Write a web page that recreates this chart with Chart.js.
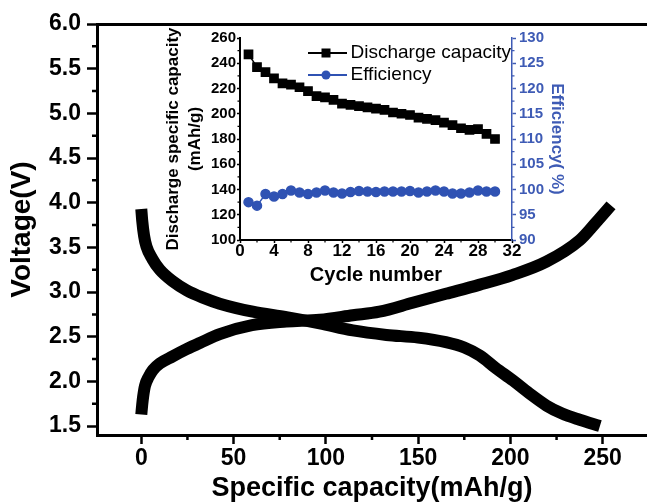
<!DOCTYPE html>
<html>
<head>
<meta charset="utf-8">
<title>Voltage profile and cycling</title>
<script src="https://cdn.jsdelivr.net/npm/chart.js@4.4.1/dist/chart.umd.min.js"></script>
<style>
  html, body { margin: 0; padding: 0; background: #fff; overflow: hidden; }
  #wrap { position: relative; width: 647px; height: 502px; }
  #mainChart { position: absolute; left: 0; top: 0; }
  #insetChart { position: absolute; left: 150px; top: 20px; }
</style>
</head>
<body>
<div id="wrap">
  <canvas id="mainChart" width="647" height="502"></canvas>
  <canvas id="insetChart" width="430" height="275"></canvas>
</div>
<script>
// ---- charge / discharge profile (mAh/g vs V) ----
const chargeCapacity = [0, 0.5, 1, 2, 4, 6.4, 10, 17, 24.5, 31.7, 42.5, 60, 78.6, 96.7, 114.6, 129, 147, 165, 183, 201, 219.5, 237.5, 246, 254.5];
const chargeVoltage = [1.63, 1.74, 1.83, 1.95, 2.05, 2.13, 2.20, 2.28, 2.36, 2.43, 2.53, 2.63, 2.67, 2.69, 2.74, 2.78, 2.88, 2.98, 3.08, 3.19, 3.34, 3.58, 3.77, 3.97];

const dischargeCapacity = [0, 0.5, 1.5, 2.8, 6, 10, 17, 24.5, 33, 42.5, 60.4, 78.6, 96.7, 114.6, 132.8, 150, 165, 175, 183.4, 192, 201.4, 210, 219.5, 228, 237.5, 248.5];
const dischargeVoltage = [3.93, 3.80, 3.63, 3.51, 3.37, 3.25, 3.12, 3.02, 2.94, 2.87, 2.78, 2.72, 2.65, 2.57, 2.52, 2.49, 2.44, 2.38, 2.29, 2.15, 2.01, 1.87, 1.73, 1.64, 1.57, 1.50];

const voltageTicks = [1.5, 2.0, 2.5, 3.0, 3.5, 4.0, 4.5, 5.0, 5.5, 6.0];
const capacityTicks = [0, 50, 100, 150, 200, 250];

// ---- cycling inset ----
const cycles = [1, 2, 3, 4, 5, 6, 7, 8, 9, 10, 11, 12, 13, 14, 15, 16, 17, 18, 19, 20, 21, 22, 23, 24, 25, 26, 27, 28, 29, 30];
const dischargeCap = [247, 237, 233, 228, 224, 223, 221, 218, 214, 213, 211, 208, 207, 206, 205, 204, 203, 201, 200, 199, 197, 196, 195, 193, 191, 188.5, 187.2, 187.8, 184, 180];
const efficiency = [97.5, 96.8, 99.1, 98.6, 99.1, 99.8, 99.4, 99.1, 99.4, 99.8, 99.4, 99.2, 99.5, 99.7, 99.6, 99.5, 99.6, 99.6, 99.6, 99.7, 99.4, 99.6, 99.8, 99.6, 99.2, 99.2, 99.4, 99.8, 99.6, 99.6];

const cycleTicks = [0, 4, 8, 12, 16, 20, 24, 28, 32];
const insetCapTicks = [100, 120, 140, 160, 180, 200, 220, 240, 260];
const efficiencyTicks = [90, 95, 100, 105, 110, 115, 120, 125, 130];

const BLUE = '#2f52b3';
const AXIS_BLUE = '#3e5bb5';

Chart.defaults.font.family = "'Liberation Sans', Arial, sans-serif";
Chart.defaults.color = '#000';

// small ticks halfway between the labelled ones
const minorTicks = {
  id: 'minorTicks',
  afterDraw(chart, args, opts) {
    const ctx = chart.ctx;
    const area = chart.chartArea;
    ctx.save();
    Object.keys(opts.scales || {}).forEach(id => {
      const scale = chart.scales[id];
      const conf = opts.scales[id];
      const vals = scale.ticks.map(t => t.value);
      ctx.strokeStyle = conf.color;
      ctx.lineWidth = conf.width;
      ctx.beginPath();
      for (let i = 0; i < vals.length - 1; i++) {
        const v = (vals[i] + vals[i + 1]) / 2;
        const p = scale.getPixelForValue(v);
        if (scale.position === 'left') {
          ctx.moveTo(area.left, p); ctx.lineTo(area.left - conf.length, p);
        } else if (scale.position === 'right') {
          ctx.moveTo(area.right, p); ctx.lineTo(area.right + conf.length, p);
        } else {
          ctx.moveTo(p, area.bottom); ctx.lineTo(p, area.bottom + conf.length);
        }
      }
      ctx.stroke();
    });
    ctx.restore();
  }
};

function fixedTicks(values) {
  return scale => { scale.ticks = values.map(v => ({ value: v })); };
}

new Chart(document.getElementById('mainChart'), {
  type: 'line',
  data: {
    datasets: [
      {
        label: 'Charge',
        data: chargeCapacity.map((x, i) => ({ x, y: chargeVoltage[i] })),
        borderColor: '#000',
        borderWidth: 12,
        borderCapStyle: 'butt',
        pointRadius: 0,
        cubicInterpolationMode: 'monotone'
      },
      {
        label: 'Discharge',
        data: dischargeCapacity.map((x, i) => ({ x, y: dischargeVoltage[i] })),
        borderColor: '#000',
        borderWidth: 12,
        borderCapStyle: 'butt',
        pointRadius: 0,
        cubicInterpolationMode: 'monotone'
      }
    ]
  },
  options: {
    responsive: false,
    animation: false,
    layout: { padding: { top: 24, left: 0, right: 0, bottom: 0 } },
    plugins: {
      legend: { display: false },
      tooltip: { enabled: false },
      minorTicks: {
        scales: {
          x: { length: 5, width: 2.5, color: '#000' },
          y: { length: 5, width: 2.5, color: '#000' }
        }
      }
    },
    scales: {
      x: {
        type: 'linear',
        position: 'bottom',
        min: -24,
        max: 274,
        afterBuildTicks: fixedTicks(capacityTicks),
        afterFit: s => { s.height = 67; },
        grid: { drawOnChartArea: false, tickLength: 9, tickWidth: 2.5, tickColor: '#000' },
        border: { color: '#000', width: 3 },
        ticks: { autoSkip: false, maxRotation: 0, padding: 1, font: { size: 23, weight: 'bold' } },
        title: {
          display: true,
          text: 'Specific capacity(mAh/g)',
          padding: { top: 0, bottom: -3 },
          font: { size: 27, weight: 'bold' }
        }
      },
      xTop: {
        type: 'linear',
        position: 'top',
        min: -24,
        max: 274,
        afterFit: s => { s.height = 0; },
        grid: { display: false },
        border: { color: '#000', width: 3 },
        ticks: { display: false }
      },
      y: {
        min: 1.4,
        max: 6.0,
        afterBuildTicks: fixedTicks(voltageTicks),
        afterFit: s => { s.width = 97; },
        grid: { drawOnChartArea: false, tickLength: 10, tickWidth: 2.5, tickColor: '#000' },
        border: { color: '#000', width: 3 },
        ticks: { padding: 6, font: { size: 23, weight: 'bold' }, callback: v => v.toFixed(1) },
        title: {
          display: true,
          text: 'Voltage(V)',
          padding: { top: 5, bottom: 0 },
          font: { size: 28, weight: 'bold' }
        }
      }
    }
  },
  plugins: [minorTicks]
});

// legend swatch: short line with the series marker in the middle
function swatch(color, marker) {
  const c = document.createElement('canvas');
  c.width = 42;
  c.height = 12;
  const g = c.getContext('2d');
  g.strokeStyle = color;
  g.lineWidth = 2;
  g.beginPath();
  g.moveTo(0, 6);
  g.lineTo(42, 6);
  g.stroke();
  g.fillStyle = color;
  if (marker === 'rect') {
    g.fillRect(16.5, 1.5, 9, 9);
  } else {
    g.beginPath();
    g.arc(21, 6, 4.5, 0, Math.PI * 2);
    g.fill();
  }
  return c;
}

const legendPlacement = {
  id: 'legendPlacement',
  afterLayout(chart) {
    const lg = chart.legend;
    const area = chart.chartArea;
    lg.left = area.left + 68;
    lg.right = lg.left + lg.width;
    lg.top = area.top + 2.5;
    lg.bottom = lg.top + lg.height;
  }
};

new Chart(document.getElementById('insetChart'), {
  type: 'line',
  data: {
    datasets: [
      {
        label: 'Discharge capacity',
        data: cycles.map((c, i) => ({ x: c, y: dischargeCap[i] })),
        yAxisID: 'y',
        borderColor: '#000',
        backgroundColor: '#000',
        borderWidth: 1.5,
        pointStyle: 'rect',
        pointRadius: 5.8,
        marker: 'rect'
      },
      {
        label: 'Efficiency',
        data: cycles.map((c, i) => ({ x: c, y: efficiency[i] })),
        yAxisID: 'y2',
        borderColor: BLUE,
        backgroundColor: BLUE,
        borderWidth: 1.5,
        pointStyle: 'circle',
        pointRadius: 4.5,
        marker: 'circle'
      }
    ]
  },
  options: {
    responsive: false,
    animation: false,
    layout: { padding: { top: 18, left: 0, right: 0, bottom: 0 } },
    plugins: {
      tooltip: { enabled: false },
      legend: {
        position: 'chartArea',
        align: 'start',
        labels: {
          usePointStyle: true,
          pointStyleWidth: 30,
          padding: 3,
          color: '#000',
          font: { size: 19 },
          generateLabels: chart => chart.data.datasets.map((ds, i) => ({
            text: ds.label,
            datasetIndex: i,
            pointStyle: swatch(ds.borderColor, ds.marker),
            fillStyle: ds.backgroundColor,
            strokeStyle: ds.borderColor,
            lineWidth: 0,
            hidden: false
          }))
        }
      },
      minorTicks: {
        scales: {
          x: { length: 2.5, width: 1.2, color: '#000' },
          y: { length: 2.5, width: 1.2, color: '#000' },
          y2: { length: 2.5, width: 1.2, color: AXIS_BLUE }
        }
      }
    },
    scales: {
      x: {
        type: 'linear',
        min: 0,
        max: 32,
        afterBuildTicks: fixedTicks(cycleTicks),
        afterFit: s => { s.height = 55; },
        grid: { drawOnChartArea: false, tickLength: 3, tickWidth: 1.5, tickColor: '#000' },
        border: { color: '#000', width: 2 },
        ticks: { autoSkip: false, maxRotation: 0, padding: -2, font: { size: 17, weight: 'bold' } },
        title: {
          display: true,
          text: 'Cycle number',
          padding: { top: 0, bottom: 8 },
          font: { size: 20, weight: 'bold' }
        }
      },
      y: {
        position: 'left',
        min: 100,
        max: 260,
        afterBuildTicks: fixedTicks(insetCapTicks),
        afterFit: s => { s.width = 90; },
        grid: { drawOnChartArea: false, tickLength: 3, tickWidth: 1.5, tickColor: '#000' },
        border: { color: '#000', width: 2 },
        ticks: { padding: 1, font: { size: 15, weight: 'bold' } },
        title: {
          display: true,
          text: ['Discharge specific capacity', '(mAh/g)'],
          padding: { top: 13, bottom: 0 },
          font: { size: 17, weight: 'bold', lineHeight: 1.25 }
        }
      },
      y2: {
        position: 'right',
        min: 90,
        max: 130,
        afterBuildTicks: fixedTicks(efficiencyTicks),
        afterFit: s => { s.width = 68; },
        grid: { drawOnChartArea: false, tickLength: 4, tickWidth: 1.5, tickColor: AXIS_BLUE },
        border: { color: AXIS_BLUE, width: 1.5 },
        ticks: { padding: 3, color: AXIS_BLUE, font: { size: 15, weight: 'bold' } },
        title: {
          display: true,
          text: 'Efficiency( %)',
          color: AXIS_BLUE,
          padding: { top: 13, bottom: 0 },
          font: { size: 17, weight: 'bold' }
        }
      }
    }
  },
  plugins: [minorTicks, legendPlacement]
});
</script>
</body>
</html>
